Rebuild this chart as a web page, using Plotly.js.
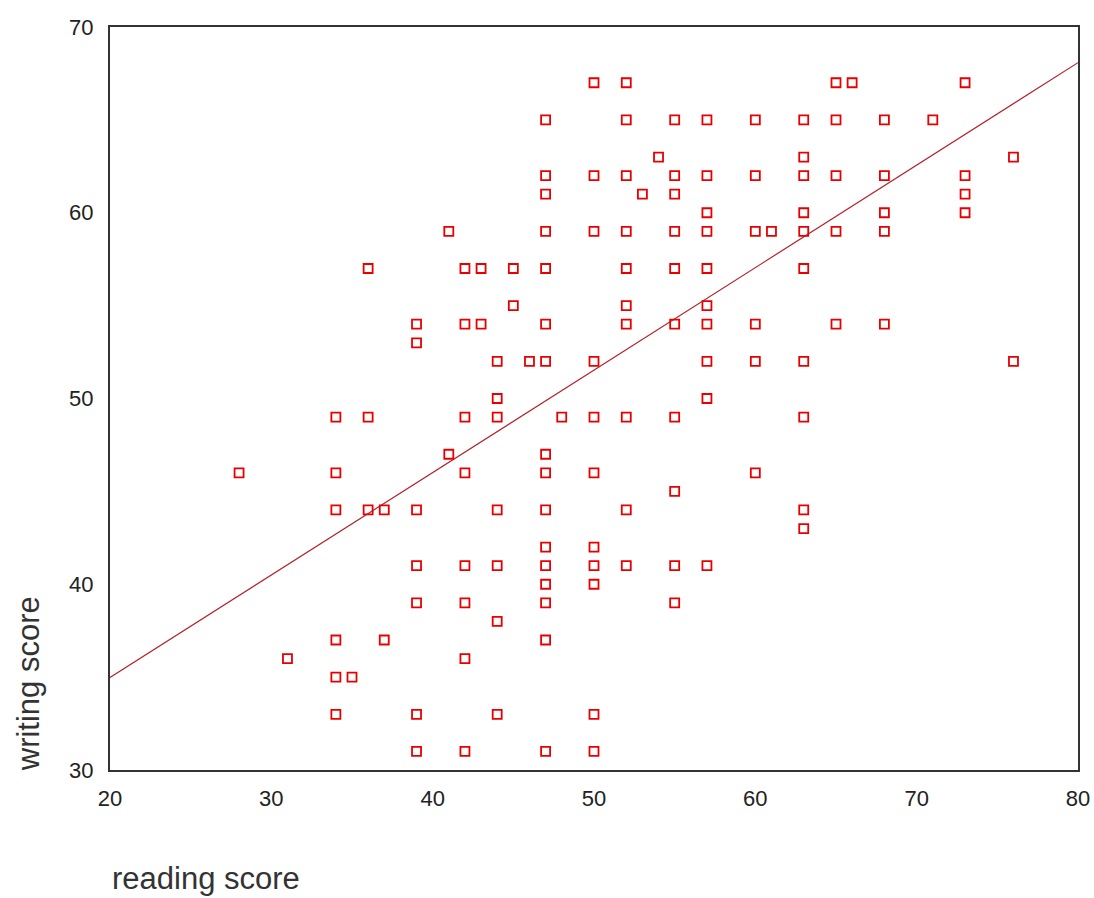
<!DOCTYPE html>
<html>
<head>
<meta charset="utf-8">
<script src="https://cdn.plot.ly/plotly-3.0.1.min.js"></script>
<style>html,body{margin:0;padding:0;background:#fff;}#chart{width:1094px;height:898px;}</style>
</head>
<body>
<div id="chart"></div>
<script>
// reading score (x) and writing score (y) for each visible point
const readScore = [
  50,52,65,66,73,
  47,52,55,57,60,63,65,68,71,
  54,63,76,
  47,50,52,55,57,60,63,65,68,73,
  47,53,55,73,
  57,63,68,73,
  41,47,50,52,55,57,60,61,63,65,68,
  36,42,43,45,47,52,55,57,63,
  45,52,57,
  39,42,43,47,52,55,57,60,65,68,
  39,
  44,46,47,50,57,60,63,76,
  44,57,
  34,36,42,44,48,50,52,55,63,
  41,47,
  28,34,42,47,50,60,
  55,
  34,36,37,39,44,47,52,63,
  63,
  47,50,
  39,42,44,47,50,52,55,57,
  47,50,
  39,42,47,55,
  44,
  34,37,47,
  31,42,
  34,35,
  34,39,44,50,
  39,42,47,50
];
const writeScore = [
  67,67,67,67,67,
  65,65,65,65,65,65,65,65,65,
  63,63,63,
  62,62,62,62,62,62,62,62,62,62,
  61,61,61,61,
  60,60,60,60,
  59,59,59,59,59,59,59,59,59,59,59,
  57,57,57,57,57,57,57,57,57,
  55,55,55,
  54,54,54,54,54,54,54,54,54,54,
  53,
  52,52,52,52,52,52,52,52,
  50,50,
  49,49,49,49,49,49,49,49,49,
  47,47,
  46,46,46,46,46,46,
  45,
  44,44,44,44,44,44,44,44,
  43,
  42,42,
  41,41,41,41,41,41,41,41,
  40,40,
  39,39,39,39,
  38,
  37,37,37,
  36,36,
  35,35,
  33,33,33,33,
  31,31,31,31
];
// fitted regression line at its two ends
const fitRead = [20, 80];
const fitWrite = [34.98, 68.08];

const xTicks = [20, 30, 40, 50, 60, 70, 80];
const yTicks = [30, 40, 50, 60, 70];

const font = 'Liberation Sans, Arial, sans-serif';

const traces = [
  {
    x: fitRead, y: fitWrite, type: 'scatter', mode: 'lines',
    line: {color: '#b4202a', width: 1.2}, hoverinfo: 'skip', showlegend: false
  },
  {
    x: readScore, y: writeScore, type: 'scatter', mode: 'markers',
    marker: {symbol: 'square-open', size: 9, color: '#e80000', line: {width: 1.8, color: '#e80000'}},
    showlegend: false
  }
];

const layout = {
  width: 1094, height: 898,
  margin: {l: 110, r: 16, t: 27, b: 128},
  paper_bgcolor: '#ffffff', plot_bgcolor: '#ffffff',
  font: {family: font, color: '#222'},
  xaxis: {
    range: [20, 80], tickvals: xTicks, ticktext: xTicks.map(String),
    showgrid: false, zeroline: false, showline: true, mirror: true,
    linecolor: '#333', linewidth: 2, ticks: '', ticklabelstandoff: 8,
    tickfont: {size: 22, family: font, color: '#222'}
  },
  yaxis: {
    range: [30, 70], tickvals: yTicks, ticktext: yTicks.map(String),
    showgrid: false, zeroline: false, showline: true, mirror: true,
    linecolor: '#333', linewidth: 2, ticks: '', ticklabelstandoff: 10,
    tickfont: {size: 22, family: font, color: '#222'}
  },
  annotations: [
    {text: 'reading score', xref: 'paper', yref: 'paper', x: 0, y: -0.1454,
     xanchor: 'left', yanchor: 'middle', showarrow: false,
     font: {size: 31, family: font, color: '#333'}},
    {text: 'writing score', xref: 'paper', yref: 'paper', x: -0.0847, y: -0.005,
     xanchor: 'center', yanchor: 'bottom', textangle: -90, showarrow: false,
     font: {size: 31, family: font, color: '#333'}}
  ]
};

Plotly.newPlot('chart', traces, layout, {displayModeBar: false, staticPlot: true});
</script>
</body>
</html>
